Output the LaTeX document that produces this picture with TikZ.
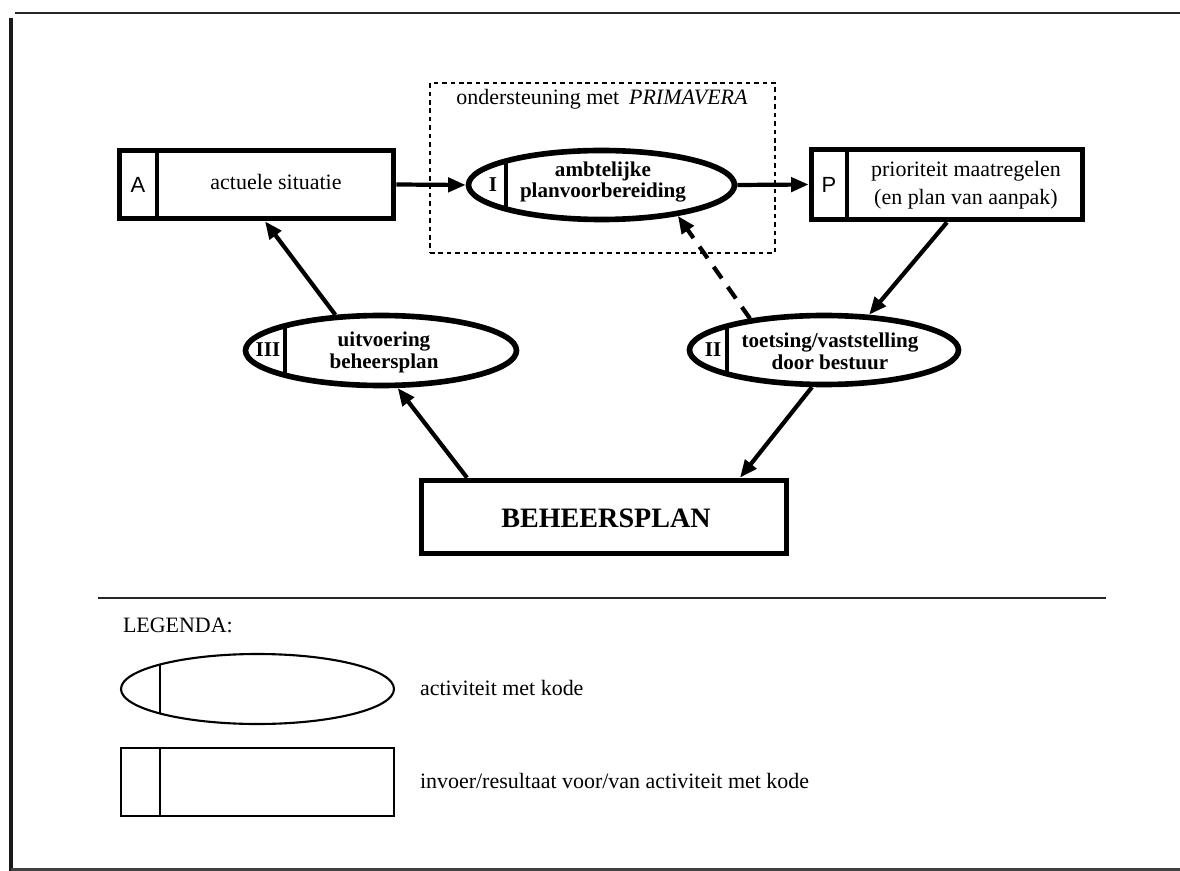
\documentclass[tikz,border=0pt]{standalone}
\usepackage{fontspec}
\setmainfont{Liberation Serif}
\newfontfamily\codesans{Liberation Sans}
\usetikzlibrary{shapes.geometric,arrows.meta,calc}

% one drawing unit, used for node sizes
\newcommand\pxu{0.02cm}

\begin{document}
\begin{tikzpicture}[x=0.02cm,y=-0.02cm,
  every node/.style={inner sep=0pt, outer sep=0pt, font=\fontsize{12.5}{15}\selectfont},
  heavybox/.style={draw, rectangle, line width=3.2pt, outer sep=1.6pt},
  heavyell/.style={draw, ellipse, line width=3.2pt, outer sep=1.6pt},
  lightbox/.style={draw, rectangle, line width=1.2pt},
  lightell/.style={draw, ellipse, line width=1.2pt},
  divider/.style 2 args={path picture={
      \draw[line width=#2]
        ([xshift=#1*\pxu]path picture bounding box.north west) --
        ([xshift=#1*\pxu]path picture bounding box.south west);}},
  codesf/.style={font=\codesans\fontsize{12.5}{14}\selectfont},
  coderm/.style={font=\bfseries\fontsize{12}{14}\selectfont},
  acttext/.style={align=center, font=\bfseries\fontsize{12}{12.5}\selectfont},
  restext/.style={align=center, font=\fontsize{12.5}{16}\selectfont},
  flow/.style={line width=2.4pt, -{Triangle[length=10pt,width=8pt]}},
  backflow/.style={flow, dash pattern=on 8pt off 6pt},
  supportbox/.style={draw, rectangle, line width=0.9pt, dash pattern=on 2.6pt off 2.2pt},
]
\useasboundingbox (0,0) rectangle (1180,871);

% page frame
\draw[line width=1.2pt, black!85] (15,13) -- (1180,13);
\draw[line width=2.8pt, black!90] (11,18) -- (11,871);
\draw[line width=1.4pt, black!75] (11,869.5) -- (1180,869.5);

% dashed area: software support
\node[supportbox, minimum width=345*\pxu, minimum height=170*\pxu] (prim) at (602.5,168) {};
\node[anchor=base] (primlbl) at (602,105) {ondersteuning met\hspace{0.45em}\textit{PRIMAVERA}};

% top row
\node[heavybox, minimum width=274*\pxu, minimum height=68*\pxu, divider={37.5}{2.6pt}] (A) at (256.5,184.5) {};
\node[codesf] (Acode) at (138,185) {A};
\node[anchor=base] (Atxt) at (276,190) {actuele situatie};

\node[heavyell, minimum width=266*\pxu, minimum height=69*\pxu, divider={37.5}{2.6pt}] (I) at (601.5,185) {};
\node[coderm] (Icode) at (493,185) {I};
\node[acttext] (Itxt) at (603,182) {ambtelijke\\planvoorbereiding};

\node[heavybox, minimum width=271*\pxu, minimum height=70*\pxu, divider={35.5}{2.6pt}] (P) at (947,184.5) {};
\node[codesf] (Pcode) at (829,185) {P};
\node[restext] (Ptxt) at (966,185) {prioriteit maatregelen\\(en plan van aanpak)};

% middle row
\node[heavyell, minimum width=271*\pxu, minimum height=70*\pxu, divider={39.5}{2.6pt}] (III) at (381,350.5) {};
\node[coderm] (IIIcode) at (268,350) {III};
\node[acttext] (IIItxt) at (384,352) {uitvoering\\beheersplan};

\node[heavyell, minimum width=269*\pxu, minimum height=69*\pxu, divider={37.5}{2.6pt}] (II) at (824,350) {};
\node[coderm] (IIcode) at (713,350) {II};
\node[acttext] (IItxt) at (830,351) {toetsing/vaststelling\\door bestuur};

% bottom
\node[heavybox, minimum width=365*\pxu, minimum height=73*\pxu] (B) at (604,517) {};
\node[anchor=base, font=\bfseries\fontsize{16}{18}\selectfont] (Btxt) at (606,527) {BEHEERSPLAN};

% cycle
\draw[flow] (A.east) -- (I.west);
\draw[flow] (I.east) -- (P.west);
\draw[flow] (P.south) -- (II.38);
\draw[flow] (II.252) -- ($(B.north)+(136,0)$);
\draw[flow] ($(B.north)+(-137,0)$) -- (III.294);
\draw[flow] (III.142) -- ($(A.south)+(8.5,0)$);
\draw[backflow] (II.157) -- (I.338);

% legend
\draw[line width=1.2pt, black!85] (98,598) -- (1106,598);
\node[anchor=base west] (legtitle) at (123,632) {LEGENDA:};
\node[lightell, minimum width=273*\pxu, minimum height=70*\pxu, divider={39}{1pt}] (legell) at (257.5,689) {};
\node[anchor=base west] (legelltxt) at (420,695) {activiteit met kode};
\node[lightbox, minimum width=273*\pxu, minimum height=68*\pxu, divider={39}{1pt}] (legbox) at (257.5,782) {};
\node[anchor=base west] (legboxtxt) at (420,788) {invoer/resultaat voor/van activiteit met kode};
\end{tikzpicture}
\end{document}
